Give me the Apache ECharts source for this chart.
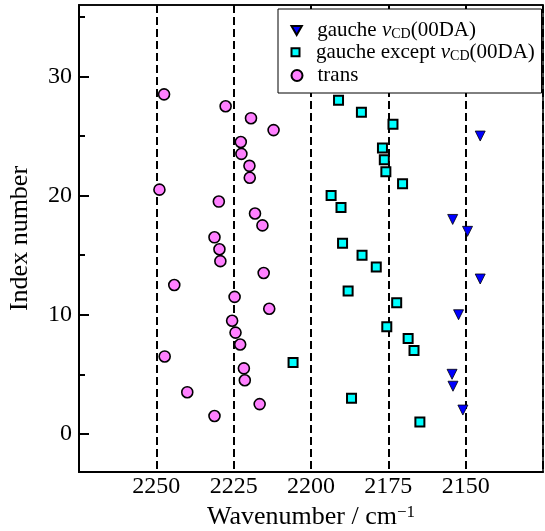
<!DOCTYPE html>
<html>
<head>
<meta charset="utf-8">
<script src="https://cdn.jsdelivr.net/npm/echarts@6/dist/echarts.min.js"></script>
<style>
  html, body { margin: 0; padding: 0; background: #fff; }
  #chart { width: 545px; height: 531px; }
</style>
</head>
<body>
<div id="chart"></div>
<script>
// C–D stretching wavenumbers (cm^-1) against conformer index number
const gaucheCdX = [2145.3, 2154.2, 2149.4, 2145.3, 2152.3, 2154.4, 2154.1, 2150.9];
const gaucheCdY = [25, 18, 17, 13, 10, 5, 4, 2];

const gaucheOtherX = [2191.1, 2183.7, 2173.5, 2176.9, 2176.3, 2175.8, 2170.4, 2193.5, 2190.3, 2189.8,
                      2183.5, 2178.9, 2188.0, 2172.3, 2175.5, 2168.6, 2166.7, 2205.8, 2186.9, 2164.8];
const gaucheOtherY = [28, 27, 26, 24, 23, 22, 21, 20, 19, 16,
                      15, 14, 12, 11, 9, 8, 7, 6, 3, 1];

const transX = [2247.5, 2227.6, 2219.4, 2212.1, 2222.7, 2222.5, 2219.9, 2219.8, 2249.0, 2229.8,
                2218.1, 2215.7, 2231.2, 2229.6, 2229.3, 2215.3, 2244.2, 2224.7, 2213.5, 2225.5,
                2224.4, 2222.9, 2247.3, 2221.7, 2221.4, 2240.0, 2216.6, 2231.2];
const transY = [28.5, 27.5, 26.5, 25.5, 24.5, 23.5, 22.5, 21.5, 20.5, 19.5,
                18.5, 17.5, 16.5, 15.5, 14.5, 13.5, 12.5, 11.5, 10.5, 9.5,
                8.5, 7.5, 6.5, 5.5, 4.5, 3.5, 2.5, 1.5];

const yMajorTicks = [0, 10, 20, 30];
const yMinorTicks = [5, 15, 25, 35];

const FONT = 'Liberation Serif';
const zip = (xs, ys) => xs.map((x, i) => [x, ys[i]]);

const chart = echarts.init(document.getElementById('chart'), null, { renderer: 'canvas' });

const legendRich = {
  n: { fontFamily: FONT, fontSize: 21, color: '#000', lineHeight: 22 },
  i: { fontFamily: FONT, fontSize: 21, fontStyle: 'italic', color: '#000', lineHeight: 22 },
  s: { fontFamily: FONT, fontSize: 14, color: '#000', lineHeight: 12, verticalAlign: 'bottom' }
};

// one legend per entry so each icon keeps its own size; the shared frame is a graphic rect
function legendEntry(name, top, iconSize, icon, label) {
  return {
    orient: 'vertical', left: 290.5, top: top, padding: 0,
    itemWidth: 31, itemHeight: iconSize, symbolKeepAspect: true,
    textStyle: { fontFamily: FONT, fontSize: 21, color: '#000', rich: legendRich },
    formatter: () => label,
    selectedMode: false,
    z: 12,
    data: [icon ? { name: name, icon: icon } : name]
  };
}

chart.setOption({
  animation: false,
  backgroundColor: '#fff',
  grid: {
    left: 79, right: 2, top: 5, bottom: 59,
    outerBoundsMode: 'none', containLabel: false,
    show: true, borderColor: '#000', borderWidth: 1.5, backgroundColor: 'transparent'
  },
  graphic: [{
    type: 'rect', z: 10,
    shape: { x: 278, y: 9, width: 263.5, height: 84 },
    style: { fill: '#fff', stroke: '#000', lineWidth: 1 }
  }],
  legend: [
    legendEntry('gaucheCd', 20, 9, 'path://M0,0L10,0L5,8.7Z', '{n|gauche }{i|ν}{s|CD}{n|(00DA)}'),
    legendEntry('gaucheOther', 41.7, 8, 'path://M0,0H10V10H0Z', '{n|gauche except }{i|ν}{s|CD}{n|(00DA)}'),
    legendEntry('trans', 65, 11, null, '{n|trans}')
  ],
  xAxis: [
    {
      type: 'value', inverse: true, min: 2125, max: 2275, interval: 25,
      position: 'bottom',
      name: 'Wavenumber / cm{sup|−1}',
      nameLocation: 'middle', nameGap: 31,
      nameTextStyle: {
        fontFamily: FONT, fontSize: 26, color: '#000',
        rich: {
          sup: { fontFamily: FONT, fontSize: 17, color: '#000', verticalAlign: 'top', lineHeight: 10 }
        }
      },
      axisLine: { show: true, onZero: false, lineStyle: { color: '#000', width: 2 } },
      axisTick: { show: false },
      axisLabel: {
        fontFamily: FONT, fontSize: 24, color: '#000', margin: 3,
        showMinLabel: false, showMaxLabel: false,
        formatter: v => String(v)
      },
      splitLine: { show: true, lineStyle: { color: '#000', width: 2, type: [8, 4] } }
    },
    {
      type: 'value', inverse: true, min: 2125, max: 2275, interval: 25,
      position: 'top',
      axisLine: { show: true, onZero: false, lineStyle: { color: '#000', width: 1.5 } },
      axisTick: { show: true, inside: true, length: 5, lineStyle: { color: '#000', width: 1.5 } },
      axisLabel: { show: false },
      splitLine: { show: false }
    }
  ],
  yAxis: [
    {
      type: 'value', min: -3.2, max: 36,
      position: 'left',
      name: 'Index number',
      nameLocation: 'middle', nameGap: 46,
      nameTextStyle: { fontFamily: FONT, fontSize: 26, color: '#000' },
      axisLine: { show: true, onZero: false, lineStyle: { color: '#000', width: 2 } },
      axisTick: {
        show: true, inside: true, length: 10, customValues: yMajorTicks,
        lineStyle: { color: '#000', width: 2 }
      },
      axisLabel: { fontFamily: FONT, fontSize: 24, color: '#000', margin: 7, customValues: yMajorTicks },
      splitLine: { show: false }
    },
    {
      type: 'value', min: -3.2, max: 36,
      position: 'left',
      axisLine: { show: false, onZero: false },
      axisTick: {
        show: true, inside: true, length: 6, customValues: yMinorTicks,
        lineStyle: { color: '#000', width: 2 }
      },
      axisLabel: { show: false },
      splitLine: { show: false }
    }
  ],
  series: [
    {
      name: 'gaucheCd', type: 'scatter', xAxisIndex: 0, yAxisIndex: 0,
      symbol: 'triangle', symbolRotate: 180, symbolSize: 10,
      itemStyle: { color: '#0000ff', borderColor: '#000', borderWidth: 0.8, opacity: 1 },
      data: zip(gaucheCdX, gaucheCdY), z: 4
    },
    {
      name: 'gaucheOther', type: 'scatter', xAxisIndex: 0, yAxisIndex: 0,
      symbol: 'rect', symbolSize: 9,
      itemStyle: { color: '#00ffff', borderColor: '#000', borderWidth: 2, opacity: 1 },
      data: zip(gaucheOtherX, gaucheOtherY), z: 3
    },
    {
      name: 'trans', type: 'scatter', xAxisIndex: 0, yAxisIndex: 0,
      symbol: 'circle', symbolSize: 11,
      itemStyle: { color: '#ff80ff', borderColor: '#000', borderWidth: 1.6, opacity: 1 },
      data: zip(transX, transY), z: 2
    }
  ]
});
</script>
</body>
</html>
